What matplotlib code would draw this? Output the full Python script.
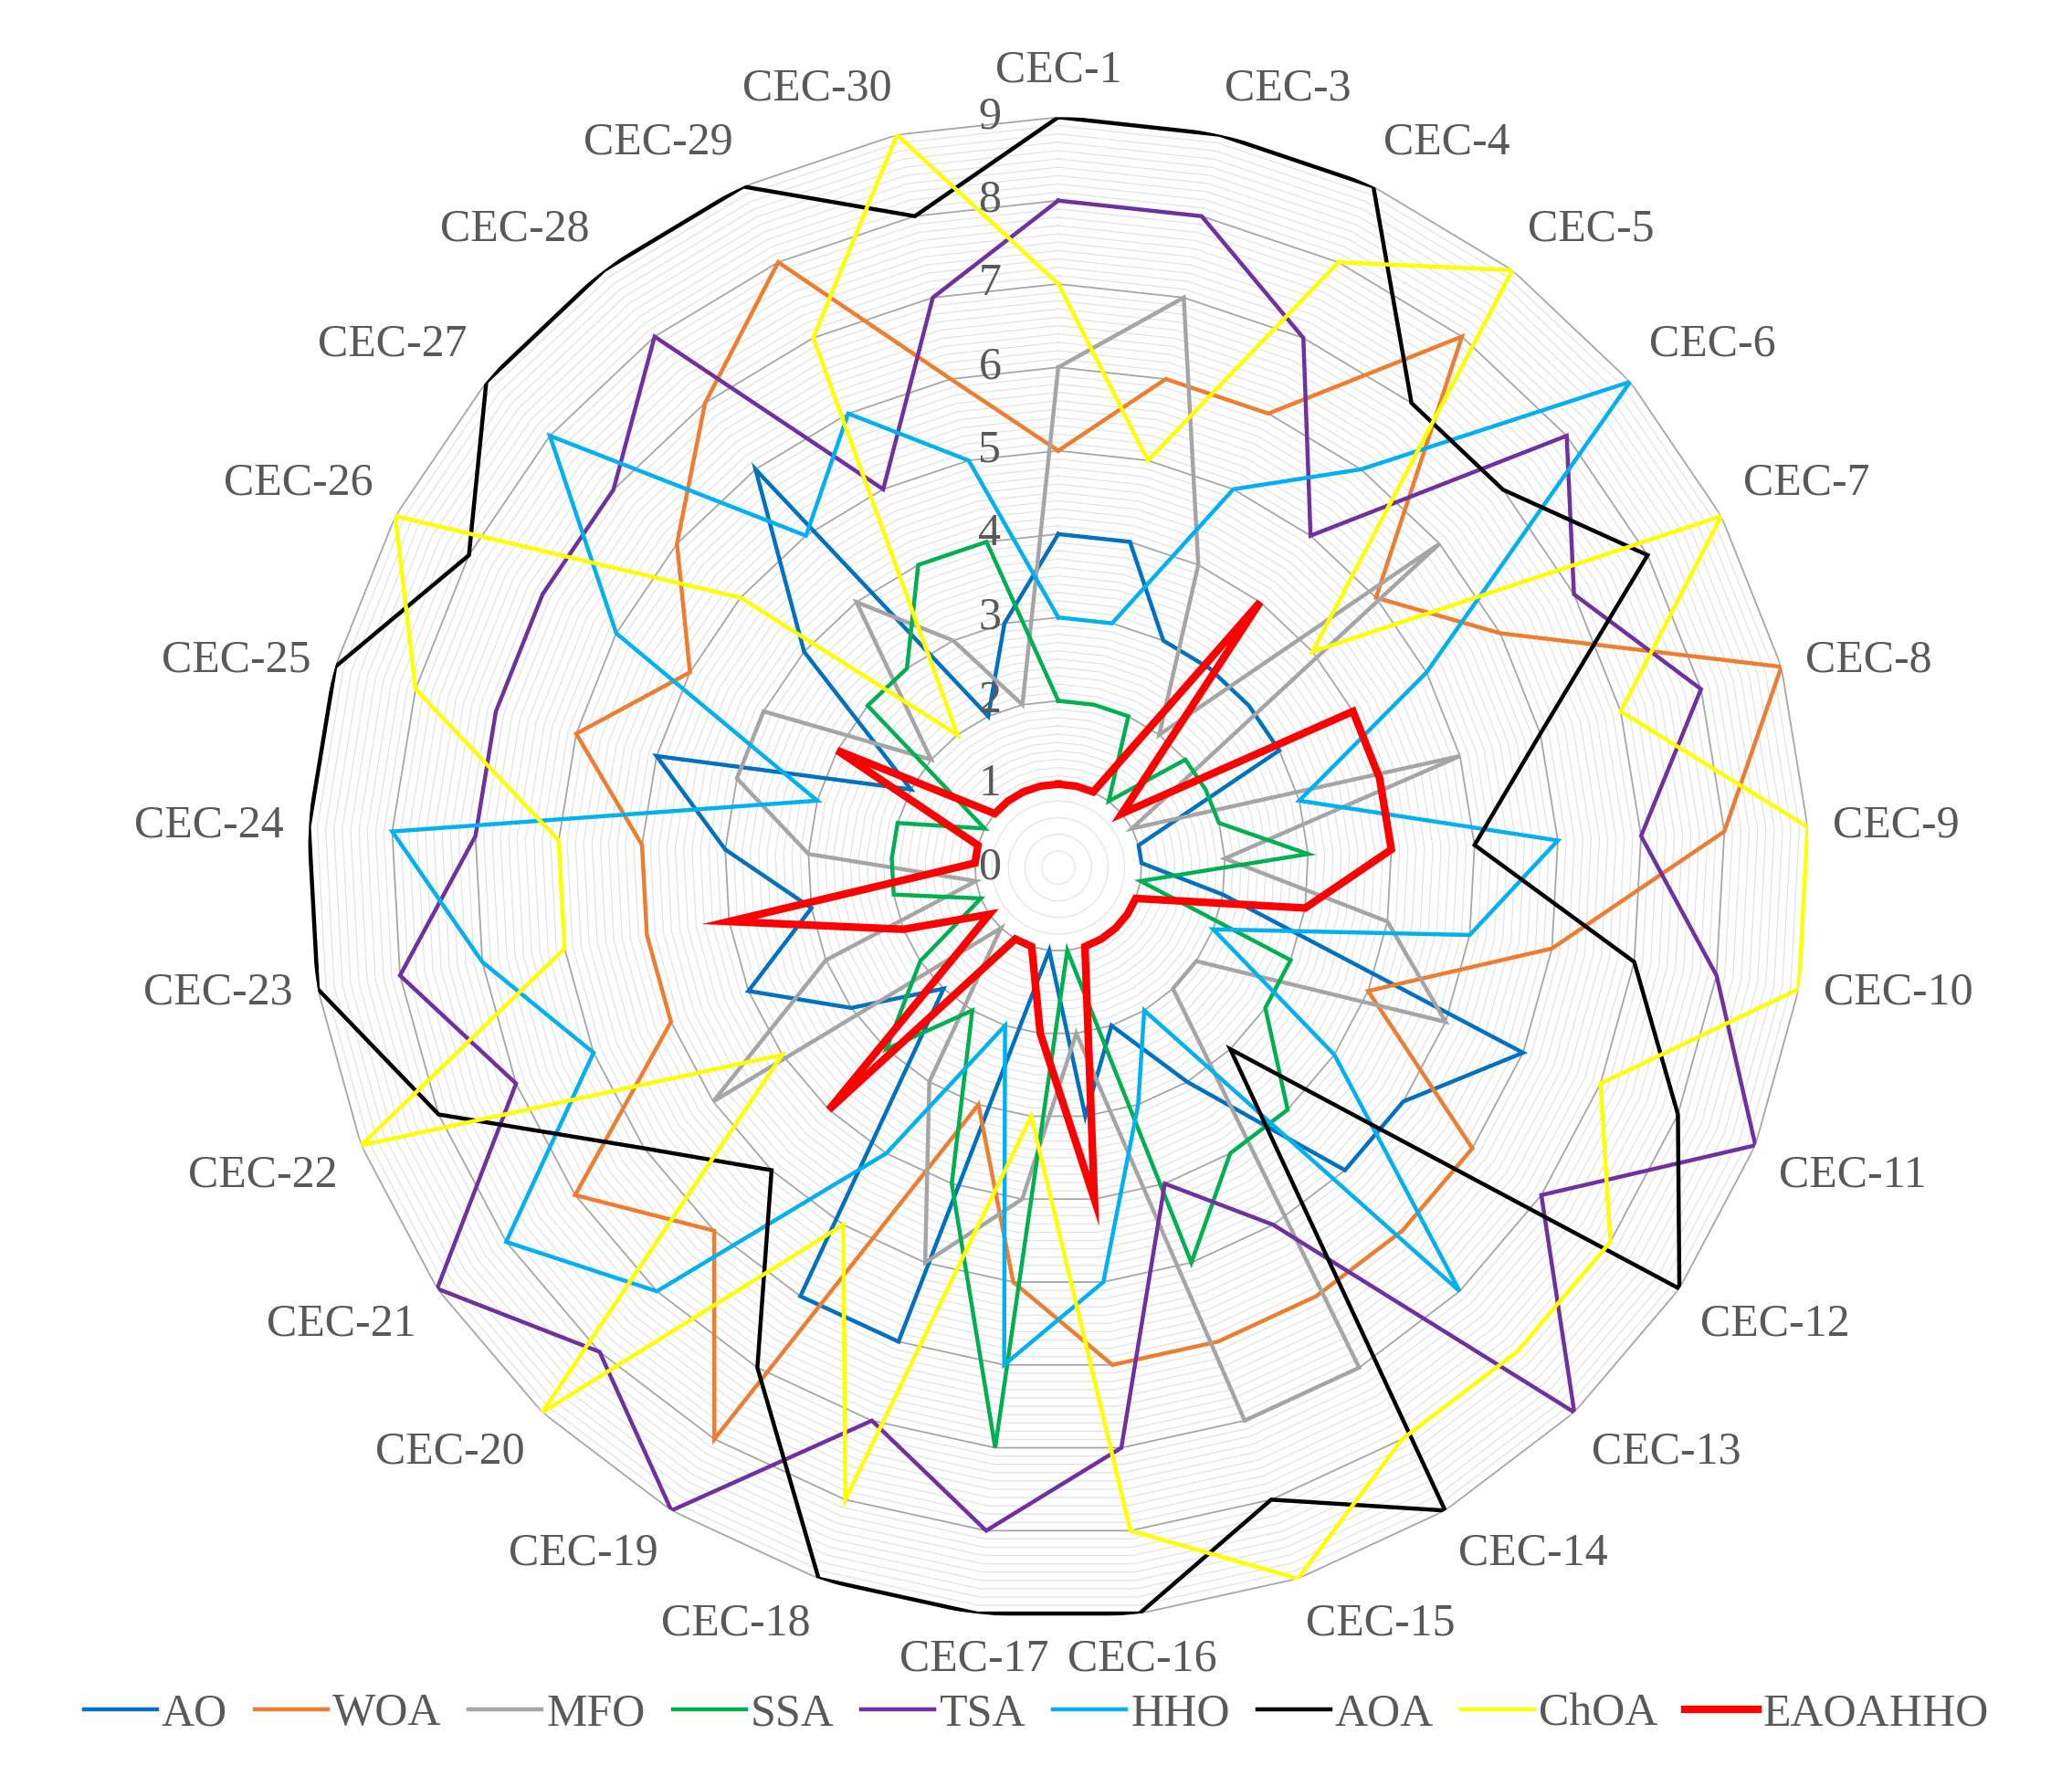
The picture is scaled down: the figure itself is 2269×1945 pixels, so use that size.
import numpy as np
import matplotlib
matplotlib.use("Agg")
import matplotlib.pyplot as plt
from matplotlib.transforms import offset_copy
from matplotlib.lines import Line2D

categories = ["CEC-1"] + [f"CEC-{i}" for i in range(3, 31)]
AO   = [4,4,3,3,3,3,1,1,2,6,5,5,3,2,3,1,6,6,2,3,4,3,4,5,2,4,6,2,3]
WOA  = [5,6,6,8,5,6,9,8,6,4,6,6,6,6,6,5,3,8,6,7,5,5,5,6,5,6,7,8,6]
MFO  = [6,7,4,2,6,1,5,2,4,5,2,2,7,7,2,4,5,3,1,5,3,1,3,4,4,2,4,3,2]
SSA  = [2,2,2,1,2,2,2,3,1,3,3,4,4,5,1,7,4,2,3,2,1,2,2,2,1,3,3,4,4]
TSA  = [8,8,7,5,8,7,8,7,8,9,7,9,5,4,7,8,7,9,8,9,7,8,7,7,7,7,8,5,7]
HHO  = [3,3,5,6,9,5,3,6,5,2,4,7,2,3,5,6,2,4,7,8,6,7,8,3,6,8,5,6,5]
AOA  = [9,9,9,7,7,8,6,5,7,8,9,3,9,8,9,9,9,7,5,6,8,9,9,9,8,9,9,9,8]
ChOA = [7,5,8,9,4,9,7,9,9,7,8,8,8,9,8,3,8,5,9,4,9,6,6,8,9,5,2,7,9]
EAOAHHO = [1,1,1,4,1,4,4,4,3,1,1,1,1,1,4,2,1,1,4,1,2,4,1,1,3,1,1,1,1]

series = [("AO", AO, "#0070C0", 3.2), ("WOA", WOA, "#ED7D31", 3.2),
          ("MFO", MFO, "#A5A5A5", 3.2), ("SSA", SSA, "#00B050", 3.2),
          ("TSA", TSA, "#7030A0", 3.2), ("HHO", HHO, "#00B0F0", 3.2),
          ("AOA", AOA, "#000000", 3.2), ("ChOA", ChOA, "#FFFF00", 3.2),
          ("EAOAHHO", EAOAHHO, "#FF0000", 6.0)]

fig = plt.figure(figsize=(22.69, 19.45), dpi=100)
ax = fig.add_axes([0.1485, 0.089, 0.7245, 0.845], projection="polar")
ax.set_theta_zero_location("N")
ax.set_theta_direction(-1)
ax.set_ylim(0, 9)
ax.grid(False)
ax.spines["polar"].set_visible(False)
ax.set_xticks([]); ax.set_yticks([])

n = len(categories)
theta = np.linspace(0, 2*np.pi, n, endpoint=False)
tc = np.append(theta, theta[0])

# grid rings
for r in np.arange(0.2, 1.0, 0.2):
    ax.plot(tc, [r]*(n+1), color="#E6E6E6", lw=1.0, zorder=1)
for r in np.arange(1.1, 9.0, 0.1):
    if abs(r - round(r)) > 0.01:
        ax.plot(tc, [r]*(n+1), color="#E3E3E3", lw=0.9, zorder=1)
for r in range(1, 10):
    ax.plot(tc, [r]*(n+1), color="#A6A6A6", lw=1.3, zorder=2)

for name, vals, col, lw in series:
    v = list(vals) + [vals[0]]
    ax.plot(tc, v, color=col, lw=lw, zorder=5 if name == "EAOAHHO" else 4,
            solid_joinstyle="miter")

lab_font = dict(family="Liberation Serif", fontsize=36, color="#595959")
for t, lab in zip(theta, categories):
    s, c = np.sin(t), np.cos(t)
    ha = "left" if s > 0.15 else ("right" if s < -0.15 else "center")
    va = "bottom" if c > 0.35 else ("top" if c < -0.35 else "center")
    ax.text(t, 9.3, lab, ha=ha, va=va, **lab_font)

tr = offset_copy(ax.transData, fig=fig, x=-75, y=0, units="dots")
for r in range(0, 10):
    ax.text(0, r, str(r), transform=tr, ha="center", va="center",
            zorder=6, **lab_font)

handles = [Line2D([0], [0], color=col, lw=lw) for _, _, col, lw in series]
labels = [nm for nm, _, _, _ in series]
leg = fig.legend(handles, labels, loc="lower center", bbox_to_anchor=(0.5, 0.0),
                 ncol=9, frameon=False, handlelength=1.6, handletextpad=0.1,
                 columnspacing=0.6, prop={"family": "Liberation Serif", "size": 36})
for t in leg.get_texts():
    t.set_color("#595959")

fig.savefig("out.png", dpi=100, facecolor="white")
